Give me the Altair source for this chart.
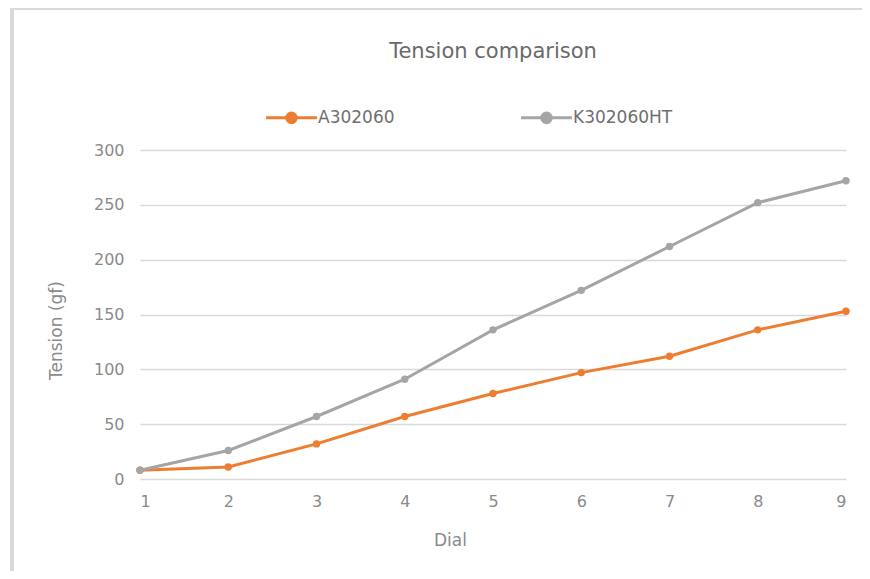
import altair as alt
import pandas as pd

dial = [1, 2, 3, 4, 5, 6, 7, 8, 9]
a302060 = [8, 11, 32, 57, 78, 97, 112, 136, 153]
k302060ht = [8, 26, 57, 91, 136, 172, 212, 252, 272]
series_names = ["A302060", "K302060HT"]
series_colors = ["#ED7D31", "#A5A5A5"]
y_ticks = [0, 50, 100, 150, 200, 250, 300]

rows = []
for d, v in zip(dial, a302060):
    rows.append({"Dial": d, "Tension": v, "Series": series_names[0]})
for d, v in zip(dial, k302060ht):
    rows.append({"Dial": d, "Tension": v, "Series": series_names[1]})
df = pd.DataFrame(rows)

FONT = "DejaVu Sans"
LABEL = "#8a8a8a"

color = alt.Color(
    "Series:N",
    scale=alt.Scale(domain=series_names, range=series_colors),
    legend=alt.Legend(
        title=None,
        orient="none",
        legendX=127,
        legendY=-57,
        direction="horizontal",
        columns=2,
        columnPadding=120,
        symbolType="M-1.11,0H1.11M0.21,0A0.21,0.21,0,1,1,-0.21,0A0.21,0.21,0,1,1,0.21,0",
        symbolSize=2100,
        symbolStrokeWidth=3,
        labelFont=FONT,
        labelFontSize=17,
        labelColor="#6f6f6f",
        labelOffset=2,
    ),
)

x = alt.X(
    "Dial:Q",
    scale=alt.Scale(domain=[1, 9], nice=False, zero=False),
    axis=alt.Axis(
        values=dial,
        format="d",
        grid=False,
        domain=False,
        ticks=False,
        labelPadding=14,
        labelFont=FONT,
        labelFontSize=16,
        labelColor=LABEL,
        title="Dial",
        titleFont=FONT,
        titleFontSize=17,
        titleFontWeight="normal",
        titleColor=LABEL,
        titlePadding=23,
        titleX=310,
        titleAnchor="middle",
    ),
)
y = alt.Y(
    "Tension:Q",
    scale=alt.Scale(domain=[0, 300], nice=False),
    axis=alt.Axis(
        values=y_ticks,
        grid=True,
        gridColor="#d9d9d9",
        gridWidth=1.5,
        domain=False,
        ticks=False,
        labelPadding=16,
        labelFont=FONT,
        labelFontSize=16,
        labelColor=LABEL,
        title="Tension (gf)",
        titleFont=FONT,
        titleFontSize=17,
        titleFontWeight="normal",
        titleColor=LABEL,
        titlePadding=28,
        titleY=180,
    ),
)

lines = alt.Chart(df).mark_line(strokeWidth=3).encode(x=x, y=y, color=color)
points = alt.Chart(df).mark_point(filled=True, size=55, opacity=1).encode(x=x, y=y, color=color)

frame_left = alt.Chart(df).mark_rule(color="#d9d9d9", strokeWidth=3).encode(
    x=alt.value(-128), y=alt.value(-142), y2=alt.value(600)
)
frame_top = alt.Chart(df).mark_rule(color="#d9d9d9", strokeWidth=3).encode(
    x=alt.value(-128), x2=alt.value(900), y=alt.value(-142)
)

chart = (
    alt.layer(frame_left, frame_top, lines, points)
    .properties(
        width=706,
        height=329,
        title=alt.TitleParams(
            "Tension comparison",
            font=FONT,
            fontSize=21,
            fontWeight="normal",
            color="#6a6a6a",
            anchor="middle",
            frame="group",
            offset=-55,
        ),
        autosize=alt.AutoSizeParams(type="none"),
        padding={"left": 132, "top": 142, "right": 16, "bottom": 92},
    )
    .configure(background="white")
    .configure_view(stroke="transparent", strokeWidth=0)
)

chart.save("out.html", embed_options={"renderer": "svg", "actions": False})
